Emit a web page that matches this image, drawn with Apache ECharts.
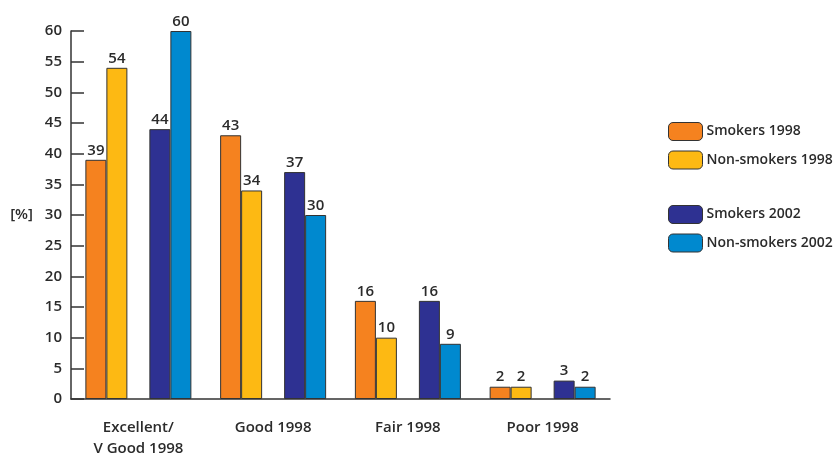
<!DOCTYPE html>
<html><head><meta charset="utf-8">
<script src="https://cdn.jsdelivr.net/npm/echarts@6/dist/echarts.min.js"></script>
<style>html,body{margin:0;padding:0;background:#fff}#c{width:839px;height:457px}</style>
</head><body><div id="c"></div>
<script>
const categories = ['Excellent/\nV Good 1998', 'Good 1998', 'Fair 1998', 'Poor 1998'];
const smokers1998 = [39, 43, 16, 2];
const nonSmokers1998 = [54, 34, 10, 2];
const smokers2002 = [44, 37, 16, 3];
const nonSmokers2002 = [60, 30, 9, 2];
const yTicks = [0, 5, 10, 15, 20, 25, 30, 35, 40, 45, 50, 55, 60];

const FONT = 'Open Sans';
const TXT = '#2b2b2b';
const colors = ['#F5821F', '#FDB913', '#2E3192', '#0089CF'];

function barSeries(name, data, color) {
  return {
    name, type: 'bar', data, barWidth: 21, barGap: '0%',
    itemStyle: { color, borderColor: '#333', borderWidth: 1 },
    label: { show: true, position: 'top', distance: 2, color: TXT, fontFamily: FONT, fontSize: 15, fontWeight: 600 }
  };
}

const legendCommon = {
  orient: 'vertical', left: 668, padding: 0,
  itemWidth: 34, itemHeight: 18, itemGap: 9.5,
  textStyle: { color: TXT, fontFamily: FONT, fontSize: 14, fontWeight: 600, padding: [0, 0, 0, -1] },
  itemStyle: { borderColor: '#333', borderWidth: 1 }
};

const chart = echarts.init(document.getElementById('c'));
chart.setOption({
  animation: false,
  grid: { left: 71, right: 229, top: 31, bottom: 58, outerBoundsMode: 'none', containLabel: false },
  legend: [
    Object.assign({ data: ['Smokers 1998', 'Non-smokers 1998'], top: 122 }, legendCommon),
    Object.assign({ data: ['Smokers 2002', 'Non-smokers 2002'], top: 205 }, legendCommon)
  ],
  xAxis: {
    type: 'category', data: categories,
    axisLine: { lineStyle: { color: '#333', width: 1.5 } },
    axisTick: { inside: true, length: 10, lineStyle: { color: '#333', width: 1.5 } },
    axisLabel: { color: TXT, fontFamily: FONT, fontSize: 15, fontWeight: 600, margin: 18, lineHeight: 21 }
  },
  yAxis: {
    type: 'value', min: 0, max: 60, interval: 5,
    name: '[%]', nameLocation: 'middle', nameRotate: 0, nameGap: 38,
    nameTextStyle: { color: TXT, fontFamily: FONT, fontSize: 15, fontWeight: 600 },
    axisLine: { show: true, lineStyle: { color: '#333', width: 1.5 } },
    axisTick: { show: true, inside: true, length: 13, lineStyle: { color: '#333', width: 1.5 } },
    axisLabel: { color: TXT, fontFamily: FONT, fontSize: 15, fontWeight: 600, margin: 9,
      formatter: v => yTicks.includes(v) ? String(v) : '' },
    splitLine: { show: false }
  },
  series: [
    barSeries('Smokers 1998', smokers1998, colors[0]),
    barSeries('Non-smokers 1998', nonSmokers1998, colors[1]),
    { name: 'gap', type: 'bar', data: [null, null, null, null], barWidth: 22, barGap: '0%', silent: true },
    barSeries('Smokers 2002', smokers2002, colors[2]),
    barSeries('Non-smokers 2002', nonSmokers2002, colors[3])
  ]
});
</script></body></html>
